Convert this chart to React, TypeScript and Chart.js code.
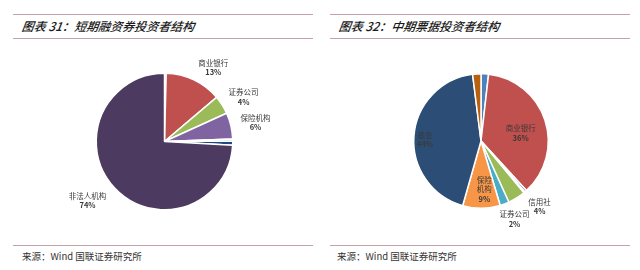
import React, { useEffect, useRef } from "react";
import { Chart, registerables } from "chart.js";

Chart.register(...registerables);

// ---- data: 短期融资券投资者结构 (left) ----
const leftCategories = ["其他", "商业银行", "证券公司", "保险机构", "信用社", "基金", "非法人机构"];
const leftValues = [0.4, 13.4, 4.4, 6.2, 0.5, 1.0, 74.1];
const leftPctLabels = ["", "13%", "4%", "6%", "", "", "74%"];
const leftColors = ["#95b3d7", "#c0504d", "#9bbb59", "#8064a2", "#4bacc6", "#1f497d", "#4d3a61"];

// ---- data: 中期票据投资者结构 (right) ----
const rightCategories = ["其他", "商业银行", "财务公司", "其他金融机构", "信用社", "证券公司", "保险\n机构", "基金", "非法人机构"];
const rightValues = [1.8, 36.4, 0.5, 0.3, 4.2, 2.2, 9.0, 43.6, 2.0];
const rightPctLabels = ["", "36%", "", "", "4%", "2%", "9%", "44%", ""];
const rightColors = ["#4f81bd", "#c0504d", "#8064a2", "#7f7f7f", "#9bbb59", "#4bacc6", "#f79646", "#2c4d75", "#b9600f"];

// label placement (radius factor + nudge), separate from data
type LP = { f: number; dx: number; dy: number } | null;
const leftLabelPos: LP[] = [null, { f: 1.25, dx: 12, dy: 3 }, { f: 1.25, dx: 7, dy: 1.5 }, { f: 1.25, dx: 8, dy: 1 }, null, null, { f: 1.25, dx: -15, dy: 0.6 }];
const rightLabelPos: LP[] = [null, { f: 0.62, dx: 0, dy: 5 }, null, null, { f: 1.25, dx: 14, dy: -5.5 }, { f: 1.25, dx: 4, dy: -0.6 }, { f: 0.72, dx: 3, dy: 0 }, { f: 0.82, dx: -1, dy: 3 }, null];

function makeLabelPlugin(names: string[], pcts: string[], pos: LP[]) {
  return {
    id: "sliceLabels",
    afterDatasetsDraw(chart: any) {
      const ctx = chart.ctx;
      const meta = chart.getDatasetMeta(0);
      ctx.save();
      ctx.textAlign = "center";
      ctx.textBaseline = "middle";
      meta.data.forEach((arc: any, i: number) => {
        const p = pos[i];
        if (!p) return;
        const mid = (arc.startAngle + arc.endAngle) / 2;
        const r = arc.outerRadius * p.f;
        const cx = arc.x + Math.cos(mid) * r + p.dx;
        const cy = arc.y + Math.sin(mid) * r + p.dy;
        const lines = names[i].split("\n");
        const all = [...lines, pcts[i]];
        const lh = 9.5;
        const top = cy - ((all.length - 1) * lh) / 2;
        all.forEach((t, k) => {
          const isPct = k === all.length - 1;
          ctx.font = (isPct ? "bold " : "") + "7.5px 'Noto Sans CJK SC', 'Noto Sans', sans-serif";
          ctx.fillStyle = "#3a3a3a";
          ctx.fillText(t, cx, top + k * lh);
        });
      });
      ctx.restore();
    },
  };
}

function PieCanvas(props: {
  labels: string[];
  values: number[];
  colors: string[];
  pcts: string[];
  pos: LP[];
  padding: { left: number; right: number; top: number; bottom: number };
  style: React.CSSProperties;
}) {
  const ref = useRef<HTMLCanvasElement>(null);
  useEffect(() => {
    if (!ref.current) return;
    const chart = new Chart(ref.current, {
      type: "pie",
      data: {
        labels: props.labels,
        datasets: [
          {
            data: props.values,
            backgroundColor: props.colors,
            borderColor: "#ffffff",
            borderWidth: 1.5,
          },
        ],
      },
      options: {
        animation: false,
        responsive: false,
        events: [],
        layout: { padding: props.padding },
        plugins: { legend: { display: false }, tooltip: { enabled: false }, title: { display: false } },
      },
      plugins: [makeLabelPlugin(props.labels, props.pcts, props.pos)],
    });
    return () => chart.destroy();
  }, []);
  return <canvas ref={ref} width={320} height={200} style={props.style} />;
}

const lineColor = "#c4a2ab";
const titleStyle: React.CSSProperties = {
  position: "absolute",
  top: 17,
  fontFamily: "'Noto Sans CJK SC', sans-serif",
  fontStyle: "italic",
  fontWeight: 500,
  fontSize: 12,
  lineHeight: "18px",
  color: "#1a1a1a",
  whiteSpace: "nowrap",
  transform: "skewX(-8deg)",
};
const sourceStyle: React.CSSProperties = {
  position: "absolute",
  top: 249,
  fontFamily: "'Noto Sans CJK SC', sans-serif",
  fontSize: 9.5,
  lineHeight: "14px",
  color: "#333",
  whiteSpace: "nowrap",
};
function HLine(p: { x: number; y: number; w: number }) {
  return <div style={{ position: "absolute", left: p.x, top: p.y, width: p.w, height: 1, background: lineColor }} />;
}

export default function App() {
  return (
    <div style={{ position: "fixed", left: 0, top: 0, width: 640, height: 270, background: "#fff", overflow: "hidden" }}>
      <HLine x={13} y={14} w={300} />
      <HLine x={13} y={38} w={300} />
      <HLine x={330} y={14} w={300} />
      <HLine x={330} y={38} w={300} />
      <div style={{ ...titleStyle, left: 22 }}>图表 31：短期融资券投资者结构</div>
      <div style={{ ...titleStyle, left: 339 }}>图表 32：中期票据投资者结构</div>
      <PieCanvas
        labels={leftCategories}
        values={leftValues}
        colors={leftColors}
        pcts={leftPctLabels}
        pos={leftLabelPos}
        padding={{ left: 9, right: 0, top: 32.5, bottom: 29.5 }}
        style={{ position: "absolute", left: 0, top: 40 }}
      />
      <PieCanvas
        labels={rightCategories}
        values={rightValues}
        colors={rightColors}
        pcts={rightPctLabels}
        pos={rightLabelPos}
        padding={{ left: 2, right: 0, top: 33, bottom: 31 }}
        style={{ position: "absolute", left: 320, top: 40 }}
      />
      <HLine x={13} y={245} w={300} />
      <HLine x={330} y={245} w={300} />
      <div style={{ ...sourceStyle, left: 22 }}>来源：Wind 国联证券研究所</div>
      <div style={{ ...sourceStyle, left: 337 }}>来源：Wind 国联证券研究所</div>
    </div>
  );
}
